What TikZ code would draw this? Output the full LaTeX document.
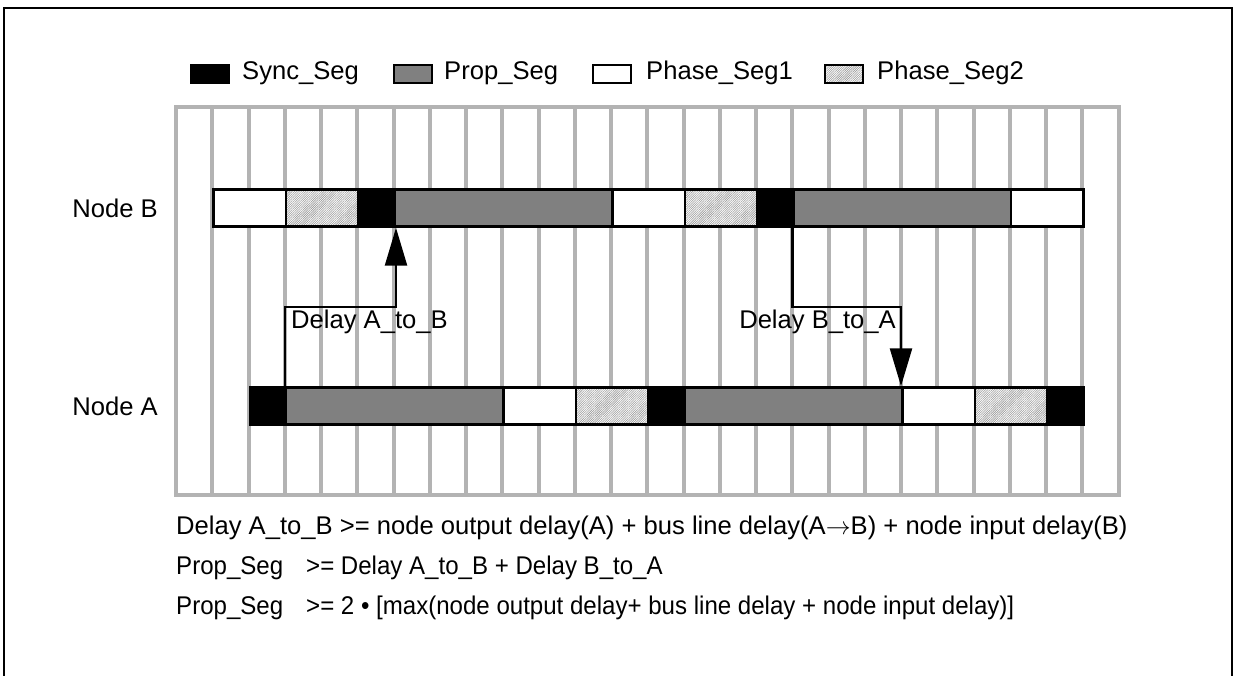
\documentclass[tikz,border=0pt]{standalone}
\usepackage{fontspec}
\setmainfont{Liberation Sans}
\newfontfamily\narrowfont[FakeStretch=0.94]{Liberation Sans}
\usetikzlibrary{arrows.meta, patterns.meta}
\definecolor{gridGray}{RGB}{179,179,179}
\definecolor{propGray}{RGB}{128,128,128}
\definecolor{hatchGray}{RGB}{155,155,155}

\begin{document}
\begin{tikzpicture}[x=1pt, y=-1pt,
  txt/.style={font=\fontsize{25.6}{30}\selectfont, inner sep=0pt},
  ntxt/.style={font={\narrowfont\fontsize{25.6}{30}\selectfont}, inner sep=0pt},
  seg/.style={rectangle, draw, line width=2.5pt, minimum height=37pt,
              inner sep=0pt, anchor=west},
  c1/.style={minimum width=36.25pt},
  c2/.style={minimum width=72.5pt},
  c6/.style={minimum width=217.5pt},
  sync/.style={fill=black},
  prop/.style={fill=propGray},
  phone/.style={fill=white},
  phtwo/.style={preaction={fill=white},
                pattern={Lines[angle=45, distance=1.6pt, line width=0.6pt]},
                pattern color=hatchGray},
  key/.style={rectangle, draw, line width=2.5pt, minimum width=38pt,
              minimum height=18pt, inner sep=0pt},
  arr/.style={-{Triangle[length=38pt, width=22pt]}, line width=2.5pt}
]
\useasboundingbox (0,0) rectangle (1236,676);
\clip (0,0) rectangle (1236,676);
\draw[line width=2.5pt] (4,8) rectangle (1232,700);

% legend
\node[key, sync] (ksync) at (210,74) {};
\node[txt, anchor=west] (lsync) at (242,73) {Sync\_Seg};
\node[key, prop] (kprop) at (413,74) {};
\node[txt, anchor=west] (lprop) at (444,73) {Prop\_Seg};
\node[key, phone] (kph1) at (612,74) {};
\node[txt, anchor=west] (lph1) at (646,73) {Phase\_Seg1};
\node[key, phtwo] (kph2) at (844,74) {};
\node[txt, anchor=west] (lph2) at (877,73) {Phase\_Seg2};

\node[txt, anchor=east] (nameB) at (158,208) {Node B};
\node[txt, anchor=east] (nameA) at (158,406) {Node A};

\begin{scope}[xshift=176pt, x=36.25pt]
% time quanta grid
\draw[gridGray, line width=4pt] (0,107) rectangle (26,495);
\foreach \i in {1,...,25}
  \draw[gridGray, line width=4pt] (\i,107) -- (\i,495);

% node B bit
\node[seg, c2, phone] (b1) at (1,208) {};
\node[seg, c2, phtwo] (b2) at (3,208) {};
\node[seg, c1, sync]  (b3) at (5,208) {};
\node[seg, c6, prop]  (b4) at (6,208) {};
\node[seg, c2, phone] (b5) at (12,208) {};
\node[seg, c2, phtwo] (b6) at (14,208) {};
\node[seg, c1, sync]  (b7) at (16,208) {};
\node[seg, c6, prop]  (b8) at (17,208) {};
\node[seg, c2, phone] (b9) at (23,208) {};

% node A bit
\node[seg, c1, sync]  (a1) at (2,406) {};
\node[seg, c6, prop]  (a2) at (3,406) {};
\node[seg, c2, phone] (a3) at (9,406) {};
\node[seg, c2, phtwo] (a4) at (11,406) {};
\node[seg, c1, sync]  (a5) at (13,406) {};
\node[seg, c6, prop]  (a6) at (14,406) {};
\node[seg, c2, phone] (a7) at (20,406) {};
\node[seg, c2, phtwo] (a8) at (22,406) {};
\node[seg, c1, sync]  (a9) at (24,406) {};
\end{scope}

% delays
\coordinate (kab) at (b3.south east |- 0,307);
\coordinate (kba) at (a7.north west |- 0,307);
\draw[arr] (a2.north west) |- (kab) -- (b3.south east);
\draw[arr] (b8.south west) |- (kba) -- (a7.north west);
\node[txt, anchor=west] (dab) at (291,322) {Delay A\_to\_B};
\node[txt, anchor=east] (dba) at (896,322) {Delay B\_to\_A};

% formulas
\node[txt, anchor=west] (f1) at (176,528)
  {Delay A\_to\_B >= node output delay(A) + bus line delay(A$\rightarrow$B) + node input delay(B)};
\node[ntxt, anchor=west] (f2a) at (176,568) {Prop\_Seg};
\node[ntxt, anchor=west] (f2b) at (306,568) {>= Delay A\_to\_B + Delay B\_to\_A};
\node[ntxt, anchor=west] (f3a) at (176,608) {Prop\_Seg};
\node[ntxt, anchor=west] (f3b) at (306,608)
  {>= 2 • [max(node output delay+ bus line delay + node input delay)]};
\end{tikzpicture}
\end{document}
